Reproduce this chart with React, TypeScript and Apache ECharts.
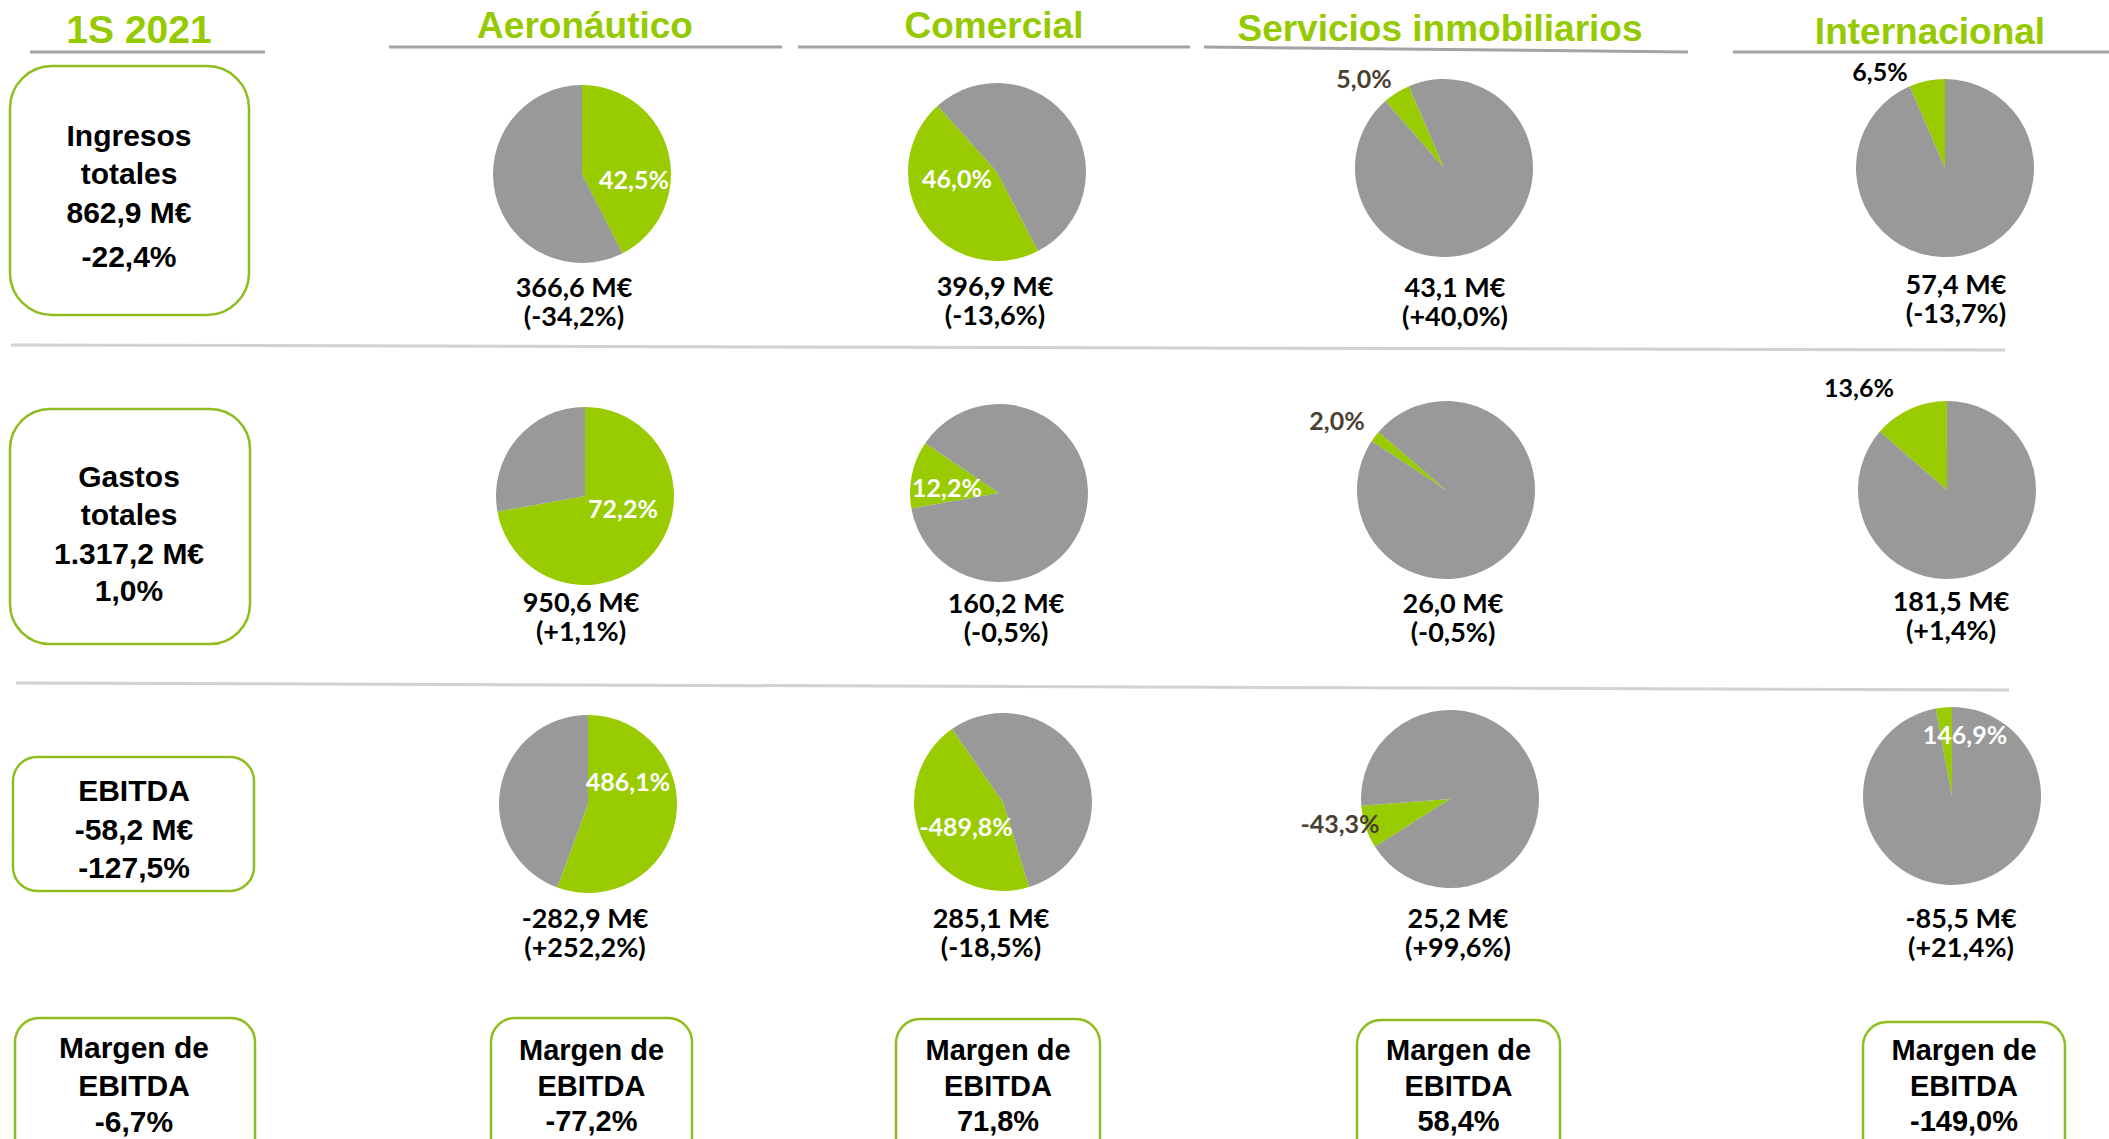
import React, { useEffect, useRef } from "react";
import * as echarts from "echarts";

// ---------- data ----------
const periodLabel = "1S 2021";
const segments = ["Aeronáutico", "Comercial", "Servicios inmobiliarios", "Internacional"];

// Ingresos
const ingresosShare = [42.5, 46.0, 5.0, 6.5];
const ingresosStartDeg = [0, 152.6, 318.8, 336.6];
const ingresosPctLabels = ["42,5%", "46,0%", "5,0%", "6,5%"];
const ingresosValues = ["366,6 M€", "396,9 M€", "43,1 M€", "57,4 M€"];
const ingresosChange = ["(-34,2%)", "(-13,6%)", "(+40,0%)", "(-13,7%)"];

// Gastos
const gastosShare = [72.2, 12.2, 2.0, 13.6];
const gastosStartDeg = [0, 260, 303.4, 311];
const gastosPctLabels = ["72,2%", "12,2%", "2,0%", "13,6%"];
const gastosValues = ["950,6 M€", "160,2 M€", "26,0 M€", "181,5 M€"];
const gastosChange = ["(+1,1%)", "(-0,5%)", "(-0,5%)", "(+1,4%)"];

// EBITDA (slice sizes as drawn)
const ebitdaShare = [55.6, 45.0, 7.8, 2.9];
const ebitdaStartDeg = [0, 163, 237.5, 349.5];
const ebitdaPctLabels = ["486,1%", "-489,8%", "-43,3%", "146,9%"];
const ebitdaValues = ["-282,9 M€", "285,1 M€", "25,2 M€", "-85,5 M€"];
const ebitdaChange = ["(+252,2%)", "(-18,5%)", "(+99,6%)", "(+21,4%)"];

// Margen de EBITDA
const margenValues = ["-77,2%", "71,8%", "58,4%", "-149,0%"];

// Totals (left column)
const totalIngresos = ["Ingresos", "totales", "862,9 M€", "-22,4%"];
const totalGastos = ["Gastos", "totales", "1.317,2 M€", "1,0%"];
const totalEbitda = ["EBITDA", "-58,2 M€", "-127,5%"];
const totalMargen = ["Margen de", "EBITDA", "-6,7%"];

// ---------- styling / layout ----------
const GREEN = "#99cc00";
const GRAY = "#999999";
const HEAD_GREEN = "#95c900";
const BOX_GREEN = "#8dbd1e";
const BROWN = "#4a3f32";
const W = 2109;
const H = 1139;

const pieCenters = [
  [[582, 174], [997, 172], [1444, 168], [1945, 168]],
  [[585, 496], [999, 493], [1446, 490], [1947, 490]],
  [[588, 804], [1003, 802], [1450, 799], [1952, 796]],
];
const pieRadius = 89;

const pctPos = [
  [[634, 179], [957, 178], [1364, 78], [1880, 71]],
  [[623, 508], [947, 487], [1337, 420], [1859, 387]],
  [[628, 781], [966, 826], [1340, 823], [1965, 734]],
];
const pctColor = [
  ["#fff", "#fff", BROWN, "#000"],
  ["#fff", "#fff", BROWN, "#000"],
  ["#fff", "#fff", BROWN, "#fff"],
];
const valuePos = [
  [[574, 287], [995, 286], [1455, 287], [1956, 284]],
  [[581, 602], [1006, 603], [1453, 603], [1951, 601]],
  [[585, 918], [991, 918], [1458, 918], [1961, 918]],
];
const headerPos = [[585, 25], [994, 25], [1440, 28], [1930, 31]];
const margenBoxes = [[491, 1018, 201], [896, 1019, 204], [1357, 1020, 203], [1863, 1022, 202]];

const HEAD_FONT = 'bold 37px "Liberation Sans", Arial, sans-serif';
const BOX_FONT = 'bold 30px "Liberation Sans", Arial, sans-serif';
const MARGEN_FONT = 'bold 29px "Liberation Sans", Arial, sans-serif';
const VAL_FONT = 'bold 27px Lato, "Noto Sans", sans-serif';
const PCT_FONT = 'bold 25px Lato, "Noto Sans", sans-serif';
const VAL_LINE = 29;

function txt(text: string, x: number, y: number, font: string, fill = "#000") {
  return {
    type: "text",
    x,
    y,
    silent: true,
    style: { text, fill, font, align: "center", verticalAlign: "middle" },
  };
}

function line(x1: number, y1: number, x2: number, y2: number, stroke: string, w: number) {
  return { type: "line", silent: true, shape: { x1, y1, x2, y2 }, style: { stroke, lineWidth: w } };
}

function box(x: number, y: number, w: number, h: number, r: number) {
  return {
    type: "rect",
    silent: true,
    shape: { x, y, width: w, height: h, r },
    style: { fill: "#fff", stroke: BOX_GREEN, lineWidth: 2.5 },
  };
}

function buildOption() {
  const shares = [ingresosShare, gastosShare, ebitdaShare];
  const starts = [ingresosStartDeg, gastosStartDeg, ebitdaStartDeg];
  const pcts = [ingresosPctLabels, gastosPctLabels, ebitdaPctLabels];
  const vals = [ingresosValues, gastosValues, ebitdaValues];
  const chg = [ingresosChange, gastosChange, ebitdaChange];

  const series: any[] = [];
  const graphic: any[] = [];

  // header lines & titles
  graphic.push(line(30, 52, 265, 52, "#a3a3a3", 3));
  graphic.push(line(389, 47, 782, 47, "#a3a3a3", 3));
  graphic.push(line(798, 47, 1190, 47, "#a3a3a3", 3));
  graphic.push(line(1204, 47, 1688, 52, "#a3a3a3", 3));
  graphic.push(line(1733, 52, 2109, 52, "#a3a3a3", 3));
  graphic.push(txt(periodLabel, 139, 29, 'bold 39px "Liberation Sans", Arial, sans-serif', HEAD_GREEN));
  segments.forEach((s, i) => graphic.push(txt(s, headerPos[i][0], headerPos[i][1], HEAD_FONT, HEAD_GREEN)));

  // separators
  graphic.push(line(11, 345, 2005, 350, "#d2d2d2", 3));
  graphic.push(line(16, 683, 2009, 690, "#d2d2d2", 3));

  // left boxes
  graphic.push(box(10, 66, 239, 249, 42));
  [135, 173, 212, 256].forEach((y, i) => graphic.push(txt(totalIngresos[i], 129, y, BOX_FONT)));
  graphic.push(box(10, 409, 240, 235, 40));
  [476, 514, 553, 590].forEach((y, i) => graphic.push(txt(totalGastos[i], 129, y, BOX_FONT)));
  graphic.push(box(13, 757, 241, 134, 24));
  [790, 829, 867].forEach((y, i) => graphic.push(txt(totalEbitda[i], 134, y, BOX_FONT)));
  graphic.push(box(15, 1018, 240, 160, 24));
  [1047, 1085, 1121].forEach((y, i) => graphic.push(txt(totalMargen[i], 134, y, BOX_FONT)));

  // margin boxes per segment
  margenBoxes.forEach(([x, y, w], i) => {
    graphic.push(box(x, y, w, 160, 24));
    const cx = x + w / 2;
    graphic.push(txt("Margen de", cx, 1050, MARGEN_FONT));
    graphic.push(txt("EBITDA", cx, 1086, MARGEN_FONT));
    graphic.push(txt(margenValues[i], cx, 1121, MARGEN_FONT));
  });

  // pies + labels
  for (let r = 0; r < 3; r++) {
    for (let c = 0; c < 4; c++) {
      const g = shares[r][c];
      series.push({
        type: "pie",
        silent: true,
        center: pieCenters[r][c],
        radius: pieRadius,
        startAngle: 90 - starts[r][c],
        clockwise: true,
        label: { show: false },
        labelLine: { show: false },
        emphasis: { disabled: true },
        itemStyle: { borderWidth: 0 },
        data: [
          { value: g, name: "green", itemStyle: { color: GREEN } },
          { value: 100 - g, name: "gray", itemStyle: { color: GRAY } },
        ],
      });
      graphic.push(txt(pcts[r][c], pctPos[r][c][0], pctPos[r][c][1], PCT_FONT, pctColor[r][c]));
      const [vx, vy] = valuePos[r][c];
      graphic.push(txt(vals[r][c], vx, vy - 1, VAL_FONT));
      graphic.push(txt(chg[r][c], vx, vy - 1 + VAL_LINE, VAL_FONT));
    }
  }

  return {
    animation: false,
    backgroundColor: "#ffffff",
    series,
    graphic: { elements: graphic.map((e) => ({ ...e, z: 10 + (e.type === "text" ? 5 : 0) })) },
  };
}

export default function App() {
  const ref = useRef<HTMLDivElement>(null);
  useEffect(() => {
    if (!ref.current) return;
    const chart = echarts.init(ref.current, undefined, { renderer: "svg", width: W, height: H });
    chart.setOption(buildOption() as any);
    return () => chart.dispose();
  }, []);
  return (
    <div
      ref={ref}
      style={{ position: "absolute", left: 0, top: 0, width: W, height: H, overflow: "hidden" }}
    />
  );
}
